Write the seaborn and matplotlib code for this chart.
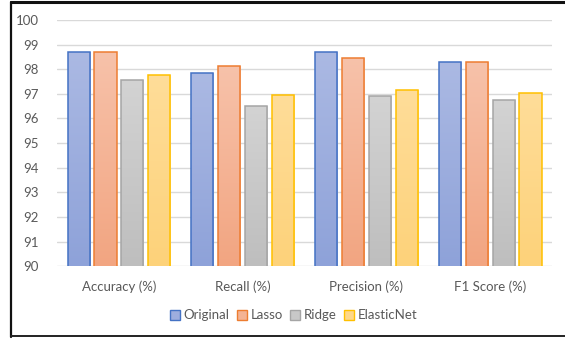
import numpy as np
import pandas as pd
import matplotlib
matplotlib.use("Agg")
import matplotlib.pyplot as plt
from matplotlib.lines import Line2D
from matplotlib.patches import Patch
from matplotlib.colors import LinearSegmentedColormap
import seaborn as sns

# Metric values per feature-selection method
metrics = ["Accuracy (%)", "Recall (%)", "Precision (%)", "F1 Score (%)"]
methods = ["Original", "Lasso", "Ridge", "ElasticNet"]
original = [98.72, 97.84, 98.72, 98.28]
lasso = [98.72, 98.12, 98.46, 98.28]
ridge = [97.56, 96.50, 96.93, 96.74]
elasticnet = [97.78, 96.95, 97.14, 97.03]
yticks = list(range(90, 101))

values = {"Original": original, "Lasso": lasso, "Ridge": ridge, "ElasticNet": elasticnet}
df = pd.DataFrame(
    [(m, meth, values[meth][i]) for meth in methods for i, m in enumerate(metrics)],
    columns=["Metric", "Method", "Value"],
)

edge_colors = {"Original": "#4472C4", "Lasso": "#ED7D31", "Ridge": "#A5A5A5", "ElasticNet": "#FFC000"}
# (top, bottom) gradient fill colors
fills = {
    "Original": ("#ABB9E3", "#8EA2D9"),
    "Lasso": ("#F7C2AA", "#F2A581"),
    "Ridge": ("#D3D3D3", "#BEBEBE"),
    "ElasticNet": ("#FFDD99", "#FDD27A"),
}
legend_fill = {"Original": "#9DADDE", "Lasso": "#F4B394", "Ridge": "#C8C8C8", "ElasticNet": "#FED88A"}

sns.set_theme(style="white")
plt.rcParams["font.family"] = ["Lato", "DejaVu Sans"]

fig = plt.figure(figsize=(5.65, 3.39), dpi=100)
ax = fig.add_axes([0.101, 0.215, 0.876, 0.726])

sns.barplot(
    data=df, x="Metric", y="Value", hue="Method", order=metrics, hue_order=methods,
    palette=edge_colors, width=0.87, gap=0.18, ax=ax, legend=False, errorbar=None,
)

ax.set_ylim(90, 100)
ax.set_xlim(-0.5, 3.5)
xlim = ax.get_xlim()
ylim = ax.get_ylim()

# Vertical gradient fill for each bar, clipped to the bar outline
grad = np.linspace(1, 0, 256).reshape(-1, 1)
for meth, container in zip(methods, ax.containers):
    cmap = LinearSegmentedColormap.from_list(meth, [fills[meth][1], fills[meth][0]])
    for bar in container:
        bar.set_facecolor("none")
        bar.set_edgecolor(edge_colors[meth])
        bar.set_linewidth(1.1)
        bar.set_zorder(3)
        x0 = bar.get_x()
        x1 = x0 + bar.get_width()
        top = bar.get_y() + bar.get_height()
        im = ax.imshow(grad, cmap=cmap, extent=(x0, x1, ylim[0], top),
                       aspect="auto", zorder=2, interpolation="bicubic", origin="upper")
        im.set_clip_path(bar)

ax.set_xlim(xlim)
ax.set_ylim(ylim)

ax.set_yticks(yticks)
ax.yaxis.grid(True, color="#D9D9D9", linewidth=1.0)
ax.set_axisbelow(True)
for s in ax.spines.values():
    s.set_visible(False)
ax.tick_params(axis="both", length=0, labelsize=9.5, labelcolor="#595959")
ax.tick_params(axis="x", pad=10)
ax.tick_params(axis="y", pad=13)
ax.set_xlabel("")
ax.set_ylabel("")

handles = [Patch(facecolor=legend_fill[m], edgecolor=edge_colors[m], linewidth=1.0, label=m)
           for m in methods]
leg = fig.legend(handles=handles, loc="center", bbox_to_anchor=(0.52, 0.07), ncol=4,
                 frameon=False, fontsize=9.5, handlelength=0.75, handleheight=0.75,
                 handletextpad=0.3, columnspacing=0.55)
for t in leg.get_texts():
    t.set_color("#595959")

# Frame around the chart area
W, H = 565, 339
fig.add_artist(Line2D([11 / W, 11 / W], [2 / H, 1 - 2 / H], transform=fig.transFigure,
                      color="#111111", linewidth=1.6))
fig.add_artist(Line2D([11 / W, 1], [1 - 2 / H, 1 - 2 / H], transform=fig.transFigure,
                      color="#111111", linewidth=2.2))
fig.add_artist(Line2D([11 / W, 1], [3 / H, 3 / H], transform=fig.transFigure,
                      color="#222222", linewidth=1.4))

fig.savefig("out.png", dpi=100)
